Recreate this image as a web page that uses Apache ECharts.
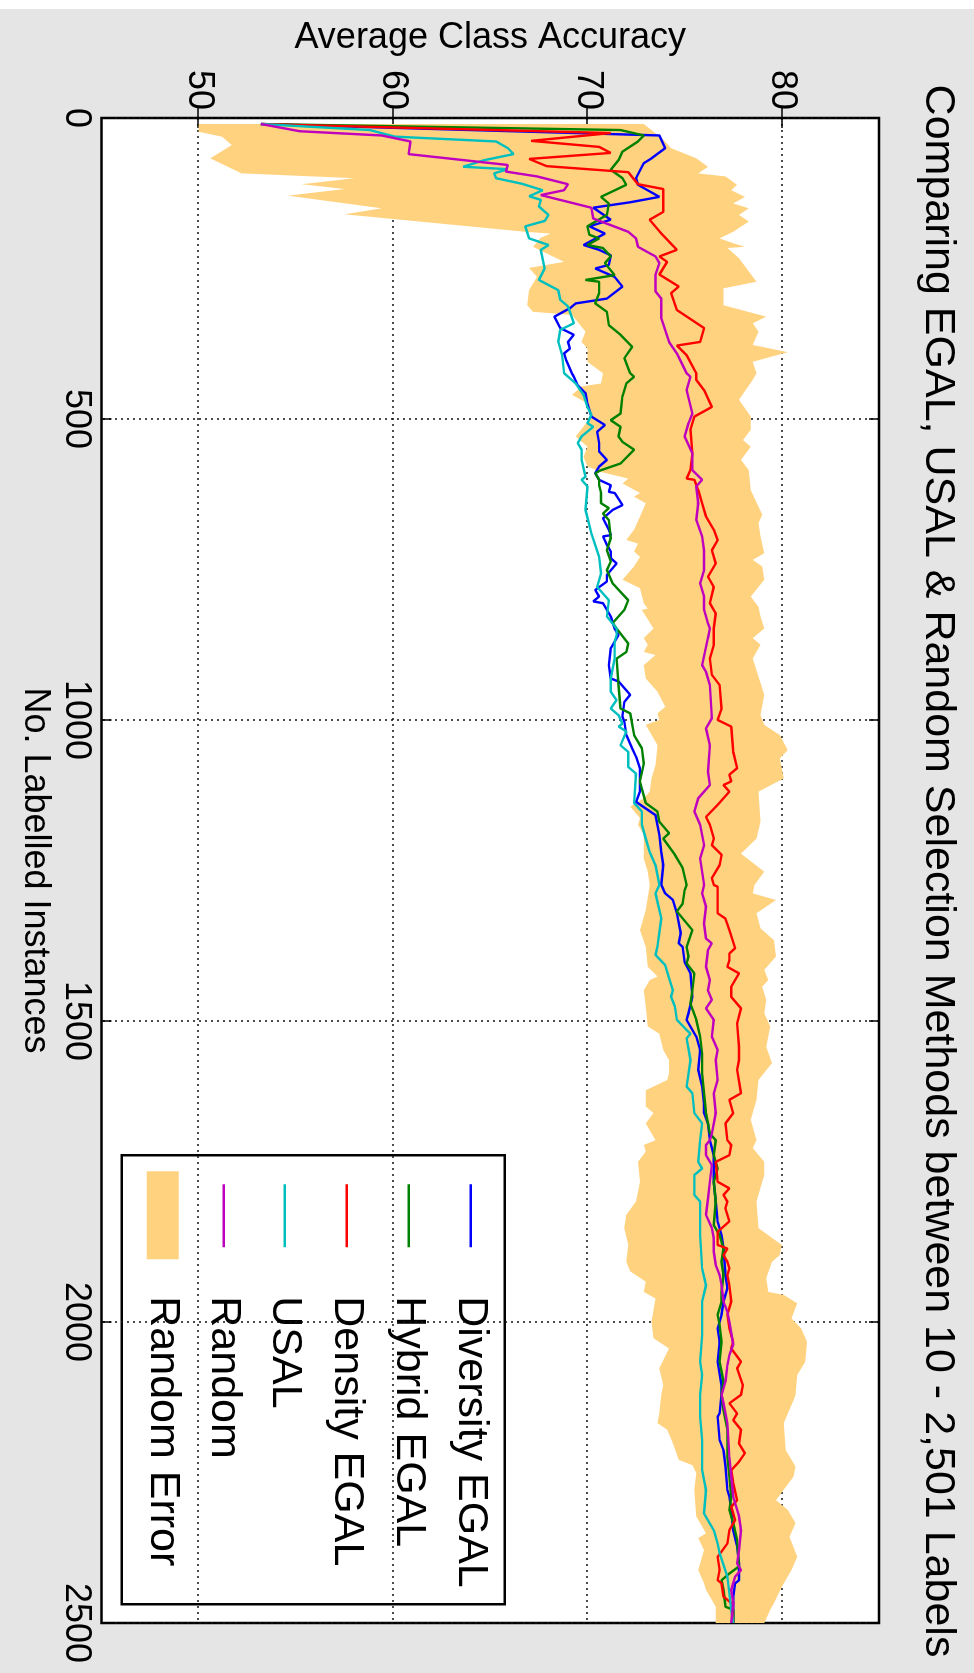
<!DOCTYPE html>
<html>
<head>
<meta charset="utf-8">
<title>Comparing EGAL, USAL &amp; Random Selection Methods</title>
<script src="https://cdn.jsdelivr.net/npm/echarts@6/dist/echarts.min.js"></script>
<style>
  html, body { margin: 0; padding: 0; background: #fff; }
  body { width: 974px; height: 1673px; overflow: hidden; position: relative; }
  /* The figure is laid out landscape and turned a quarter turn clockwise. */
  #chart {
    position: absolute; left: 0; top: 0;
    width: 1673px; height: 974px;
    transform-origin: 0 0;
    transform: translate(974px, 0) rotate(90deg);
  }
  #edge { position: absolute; left: 0; top: 0; width: 974px; height: 9px; background: #fff; }
</style>
</head>
<body>
<div id="chart"></div>
<div id="edge"></div>
<script>
// ---- Data: [labelled instances, average class accuracy %] ----
const diversityEgal = [
  [10,53.2],[29,73.7],[50,74.0],[67,73.3],[75,72.9],[100,72.5],[111,72.6],[131,73.7],[140,72.2],[149,70.3],
  [169,71.2],[180,70.1],[192,70.9],[211,69.8],[219,70.6],[228,71.2],[244,71.1],[250,70.4],[264,71.4],[280,71.8],
  [300,71.0],[308,69.4],[316,69.1],[330,68.3],[349,68.6],[360,69.3],[372,69.0],[383,69.1],[391,68.8],[402,68.9],
  [424,69.2],[430,69.3],[444,69.5],[457,69.9],[474,70.0],[496,70.2],[504,70.6],[510,70.9],[521,70.5],[540,70.6],
  [554,70.6],[568,71.0],[579,70.6],[590,70.4],[601,70.6],[610,71.2],[621,71.1],[623,71.4],[643,71.8],[651,71.3],
  [665,70.8],[684,71.1],[693,71.2],[695,70.8],[709,71.0],[720,71.2],[731,71.2],[740,71.5],[759,71.0],[770,71.0],
  [784,70.4],[795,70.6],[803,70.3],[806,70.8],[828,71.2],[848,71.4],[859,71.6],[881,71.2],[909,71.1],[931,71.2],
  [936,71.6],[958,72.2],[970,71.9],[994,71.8],[1003,71.9],[1025,72.0],[1047,72.3],[1061,72.5],[1080,72.7],[1119,72.7],
  [1136,72.5],[1147,73.0],[1158,73.5],[1191,73.7],[1219,73.8],[1241,73.9],[1274,73.8],[1288,74.0],[1299,74.4],[1321,74.6],
  [1354,74.8],[1371,74.7],[1377,74.9],[1402,75.0],[1421,75.3],[1460,75.4],[1487,75.2],[1498,75.1],[1526,75.6],[1548,75.8],
  [1581,75.7],[1609,75.9],[1637,76.0],[1653,76.0],[1670,76.2],[1698,76.3],[1700,76.4],[1723,76.5],[1767,76.5],[1800,76.6],
  [1833,76.7],[1856,76.9],[1878,77.0],[1922,77.1],[1944,77.2],[1966,77.0],[1988,76.9],[2011,76.7],[2033,76.8],[2066,76.7],
  [2105,76.9],[2121,76.9],[2152,76.8],[2157,76.7],[2196,76.8],[2213,77.0],[2240,77.1],[2279,77.2],[2290,77.3],[2312,77.4],
  [2346,77.5],[2373,77.7],[2401,77.8],[2429,77.8],[2434,77.6],[2456,77.5],[2478,77.5],[2500,77.5]
];

const hybridEgal = [
  [10,53.2],[20,71.7],[29,72.9],[39,72.6],[56,71.8],[70,71.6],[86,71.2],[100,71.8],[111,72.0],[131,70.7],
  [142,71.1],[161,71.0],[180,70.0],[194,70.1],[200,70.6],[211,70.0],[216,70.8],[230,71.2],[241,70.9],[261,71.4],
  [269,69.9],[272,70.6],[291,70.6],[308,70.4],[322,71.0],[344,71.1],[360,71.7],[380,72.3],[399,71.9],[424,72.2],
  [430,72.4],[441,72.0],[463,71.8],[491,71.7],[502,71.2],[513,71.7],[529,71.6],[538,71.8],[551,72.4],[574,71.7],
  [585,70.7],[590,70.4],[601,70.6],[610,70.6],[623,70.7],[640,70.7],[648,71.1],[657,70.8],[668,71.1],[698,71.2],
  [718,71.0],[737,71.2],[751,71.0],[773,71.3],[787,71.7],[801,72.1],[817,71.9],[839,71.3],[848,71.5],[873,72.1],
  [887,72.0],[898,71.5],[942,71.6],[981,71.7],[989,72.2],[1025,72.4],[1047,72.8],[1072,72.9],[1102,72.7],[1138,73.0],
  [1152,73.6],[1169,73.7],[1188,74.2],[1197,73.9],[1224,74.5],[1246,74.9],[1274,75.1],[1283,75.0],[1305,74.9],[1318,74.6],
  [1349,75.4],[1377,75.1],[1393,75.2],[1404,75.1],[1421,75.5],[1449,75.4],[1471,75.3],[1498,75.6],[1526,75.8],[1554,75.9],
  [1587,75.9],[1620,76.0],[1653,76.1],[1687,76.3],[1698,76.6],[1700,76.7],[1723,76.5],[1745,76.7],[1767,76.5],[1800,76.6],
  [1839,76.5],[1856,76.8],[1878,77.0],[1900,76.9],[1922,77.0],[1950,76.9],[1966,76.9],[1988,76.7],[2005,76.8],[2033,76.9],
  [2066,76.8],[2099,77.0],[2121,76.9],[2146,77.0],[2179,77.2],[2224,77.2],[2257,77.3],[2290,77.4],[2312,77.3],[2334,77.5],
  [2362,77.7],[2406,77.8],[2418,77.3],[2429,76.9],[2445,77.0],[2473,77.1],[2478,77.5],[2500,77.5]
];

const densityEgal = [
  [10,53.2],[25,71.2],[38,67.1],[48,70.6],[58,71.2],[68,67.0],[80,67.9],[90,72.1],[110,72.6],[118,73.9],
  [156,73.9],[169,73.2],[192,73.8],[219,74.6],[230,73.7],[239,74.1],[260,73.7],[280,74.7],[291,74.3],[319,74.6],
  [349,76.0],[372,75.8],[378,74.6],[394,75.1],[424,75.6],[435,75.6],[452,76.0],[480,76.4],[496,75.5],[518,75.3],
  [557,75.4],[585,75.3],[599,75.1],[601,75.5],[618,75.7],[640,75.9],[662,76.1],[684,76.5],[701,76.7],[718,76.4],
  [740,76.6],[762,76.2],[779,76.5],[806,76.3],[823,76.6],[848,76.5],[875,76.5],[898,76.3],[925,76.4],[942,76.8],
  [981,76.9],[1000,76.7],[1011,77.4],[1053,77.5],[1080,77.7],[1091,77.3],[1102,77.4],[1108,77.0],[1119,77.3],[1141,76.7],
  [1161,76.1],[1174,76.3],[1197,76.5],[1208,76.4],[1224,76.9],[1241,76.8],[1263,76.4],[1274,76.5],[1277,76.7],[1321,76.7],
  [1330,77.1],[1349,77.3],[1379,77.6],[1388,77.3],[1399,77.3],[1410,77.2],[1421,77.8],[1443,77.4],[1460,77.4],[1479,77.9],
  [1504,77.7],[1543,77.8],[1565,77.8],[1581,77.7],[1620,77.9],[1631,77.3],[1653,77.5],[1670,77.1],[1698,77.2],[1706,77.4],
  [1723,77.3],[1734,76.6],[1767,76.7],[1778,77.3],[1789,77.0],[1800,77.2],[1811,77.1],[1833,77.3],[1850,76.7],[1872,76.7],
  [1878,77.2],[1889,77.0],[1900,77.2],[1911,77.3],[1922,77.2],[1939,77.3],[1966,77.4],[1988,77.2],[2011,77.3],[2033,77.5],
  [2044,77.4],[2066,77.9],[2077,77.7],[2105,78.0],[2121,77.9],[2135,77.3],[2152,77.7],[2163,77.5],[2179,77.9],[2202,77.8],
  [2218,78.1],[2232,77.8],[2246,77.4],[2268,77.5],[2296,77.7],[2307,77.4],[2329,77.6],[2346,77.3],[2368,77.2],[2390,76.7],
  [2412,76.8],[2429,76.7],[2434,76.9],[2456,77.0],[2467,77.4],[2500,77.5]
];

const usal = [
  [10,53.2],[20,58.8],[31,60.1],[39,65.3],[50,65.9],[60,66.2],[70,64.7],[81,63.6],[85,65.9],[92,65.2],
  [100,65.3],[109,66.6],[120,67.7],[130,67.0],[136,67.6],[147,67.5],[161,68.0],[171,67.8],[180,66.8],[200,67.0],
  [211,68.0],[219,67.6],[250,67.8],[269,67.5],[286,68.5],[302,68.6],[313,69.0],[341,69.3],[352,68.6],[372,68.5],
  [394,68.7],[424,68.8],[427,68.9],[441,69.4],[460,69.8],[480,70.0],[493,70.2],[507,70.0],[513,70.3],[529,69.7],
  [540,69.5],[551,69.7],[568,69.7],[596,69.9],[601,69.7],[612,70.0],[651,69.9],[690,70.2],[729,70.6],[756,70.7],
  [779,70.5],[801,71.1],[828,71.0],[848,71.5],[859,71.5],[870,71.4],[898,71.4],[931,71.2],[953,71.2],[967,71.5],
  [981,71.2],[992,71.6],[1006,71.8],[1011,71.6],[1019,72.0],[1042,71.7],[1053,72.1],[1078,72.1],[1089,72.5],[1138,72.4],
  [1152,72.8],[1174,72.8],[1197,73.0],[1219,73.2],[1241,73.5],[1274,73.7],[1288,73.5],[1330,73.8],[1377,73.6],[1390,73.5],
  [1407,74.0],[1429,74.2],[1449,74.4],[1460,74.3],[1476,74.5],[1498,74.6],[1515,75.1],[1521,75.3],[1529,75.1],[1565,75.3],
  [1609,75.1],[1620,75.4],[1653,75.5],[1670,75.9],[1698,75.8],[1734,75.7],[1745,75.9],[1756,75.5],[1789,75.5],[1800,75.8],
  [1856,75.8],[1911,75.9],[1939,76.1],[1966,75.9],[2022,75.9],[2066,75.8],[2088,75.9],[2121,75.8],[2157,75.8],[2196,75.9],
  [2246,75.9],[2279,76.1],[2318,76.0],[2346,76.5],[2368,76.7],[2384,76.8],[2423,77.2],[2451,77.3],[2478,77.4],[2500,77.5]
];

const randomSel = [
  [10,53.2],[22,55.2],[29,59.4],[39,60.9],[60,60.8],[78,65.9],[89,65.8],[97,67.4],[110,69.0],[120,68.8],
  [128,67.6],[149,70.2],[167,70.3],[189,72.1],[200,72.5],[214,72.6],[230,73.5],[241,73.7],[261,73.5],[288,73.5],
  [300,73.8],[333,73.8],[372,74.2],[391,74.6],[424,75.1],[430,75.3],[452,75.1],[491,75.4],[507,75.2],[529,75.0],
  [557,75.4],[585,75.4],[601,75.9],[612,75.6],[640,75.7],[668,75.6],[695,75.9],[718,76.0],[740,76.0],[751,76.0],
  [773,75.8],[795,76.0],[817,76.0],[839,76.2],[848,76.3],[864,76.2],[909,75.9],[920,76.1],[942,76.3],[997,76.4],
  [1014,76.1],[1042,76.3],[1086,76.2],[1108,76.3],[1130,75.7],[1152,75.5],[1174,75.8],[1208,76.0],[1230,75.8],[1274,76.0],
  [1288,75.9],[1310,76.1],[1338,76.0],[1363,76.1],[1371,76.4],[1382,76.2],[1410,76.1],[1432,76.3],[1449,76.2],[1465,76.4],
  [1479,76.1],[1498,76.5],[1526,76.4],[1548,76.7],[1565,76.6],[1598,76.7],[1620,76.5],[1653,76.6],[1687,76.4],[1698,76.3],
  [1706,76.1],[1723,76.1],[1739,76.4],[1767,76.3],[1795,76.2],[1822,76.1],[1844,76.4],[1861,76.5],[1883,76.5],[1905,76.6],
  [1922,76.8],[1939,76.9],[1966,77.0],[1983,77.2],[1999,77.3],[2038,77.5],[2055,77.3],[2072,77.2],[2099,77.1],[2121,76.9],
  [2135,77.0],[2168,77.2],[2224,77.3],[2257,77.4],[2290,77.5],[2323,77.8],[2346,77.9],[2379,77.8],[2401,77.7],[2412,77.9],
  [2423,77.6],[2445,77.4],[2467,77.5],[2500,77.4]
];

// Random selection error band: lower and upper edges
const randomErrorLow = [
  [10,50.0],[23,50.0],[31,51.2],[45,51.7],[67,50.6],[92,52.2],[100,58.0],[110,55.3],[118,57.5],[129,54.6],
  [150,59.4],[160,57.5],[189,66.8],[192,68.1],[199,67.6],[214,67.2],[239,68.8],[249,67.0],[264,67.4],[286,67.0],
  [311,66.9],[322,67.2],[327,69.2],[355,69.9],[372,69.7],[383,70.0],[405,70.0],[424,70.8],[441,70.7],[446,69.7],
  [460,69.2],[474,70.0],[496,70.2],[529,69.4],[546,70.0],[563,69.8],[579,70.0],[588,70.7],[599,72.1],[607,71.8],
  [623,72.7],[629,72.4],[640,73.0],[662,72.7],[684,72.4],[701,72.0],[707,72.6],[720,72.4],[729,72.7],[745,72.4],
  [767,71.8],[781,72.7],[806,72.9],[815,73.1],[817,72.8],[848,73.4],[864,72.9],[875,73.1],[887,72.9],[892,73.5],
  [909,72.9],[931,73.0],[953,73.6],[978,74.0],[989,73.6],[1000,73.7],[1008,73.0],[1042,73.6],[1075,73.5],[1097,73.3],
  [1119,73.2],[1130,72.9],[1144,72.2],[1163,72.7],[1174,72.6],[1191,72.9],[1230,72.9],[1252,73.1],[1274,73.2],[1316,73.0],
  [1349,72.7],[1377,73.0],[1410,73.1],[1426,73.6],[1432,73.2],[1449,72.9],[1476,73.0],[1509,73.1],[1521,73.7],[1548,73.9],
  [1565,74.2],[1587,74.2],[1598,74.1],[1615,73.0],[1642,73.0],[1653,73.4],[1670,73.0],[1698,73.5],[1706,72.9],[1717,73.0],
  [1734,72.6],[1767,72.7],[1800,72.5],[1822,72.0],[1844,71.9],[1872,72.1],[1900,72.0],[1916,72.2],[1933,73.0],[1950,72.9],
  [1961,73.5],[1999,73.3],[2027,73.4],[2044,74.2],[2077,73.7],[2105,73.9],[2121,73.8],[2152,73.7],[2168,73.6],[2179,74.1],
  [2202,74.4],[2229,74.7],[2238,75.4],[2251,75.6],[2279,75.5],[2323,75.6],[2351,76.1],[2359,75.7],[2379,76.0],[2412,75.7],
  [2434,76.0],[2445,76.1],[2473,76.6],[2500,76.6]
];

const randomErrorHigh = [
  [10,72.9],[20,73.3],[39,74.0],[50,74.3],[67,75.6],[81,76.2],[92,75.7],[97,77.1],[111,77.7],[120,77.4],
  [131,78.1],[142,77.5],[150,78.3],[161,77.8],[172,78.3],[189,77.5],[200,76.8],[208,77.5],[214,78.1],[216,77.2],
  [233,77.8],[272,78.7],[283,77.0],[311,77.0],[330,79.2],[341,78.5],[355,78.8],[377,78.5],[389,80.3],[405,78.5],
  [424,78.7],[435,78.5],[468,77.8],[496,78.4],[518,78.4],[535,78.0],[546,78.4],[568,77.9],[585,78.3],[618,78.4],
  [659,79.0],[673,78.8],[695,78.9],[723,79.1],[734,78.5],[745,79.0],[767,79.1],[795,78.4],[812,78.8],[828,78.9],
  [848,79.1],[864,78.5],[875,78.9],[898,78.5],[958,79.1],[992,78.9],[1008,79.1],[1025,79.9],[1050,80.3],[1064,79.9],
  [1097,80.1],[1119,78.8],[1169,78.9],[1197,78.7],[1222,77.9],[1252,79.1],[1274,78.6],[1288,78.5],[1299,79.7],[1321,78.7],
  [1346,78.9],[1366,79.6],[1393,79.7],[1415,79.1],[1432,79.3],[1443,79.0],[1465,79.2],[1487,79.1],[1509,79.4],[1543,79.2],
  [1570,79.5],[1598,78.8],[1631,78.7],[1664,78.4],[1698,78.7],[1711,78.5],[1734,79.1],[1756,79.1],[1767,79.0],[1800,78.7],
  [1844,78.8],[1872,80.0],[1889,79.9],[1900,79.5],[1927,79.2],[1950,79.3],[1955,80.1],[1969,80.8],[1994,80.5],[2011,81.0],
  [2033,81.3],[2066,81.2],[2088,80.8],[2121,80.7],[2130,80.6],[2168,80.1],[2213,80.2],[2240,80.7],[2257,80.6],[2274,80.2],
  [2296,79.7],[2312,80.3],[2334,80.7],[2357,80.4],[2390,80.8],[2412,80.5],[2440,80.0],[2467,79.6],[2478,79.4],[2500,79.1]
];

// ---- Axis ticks and labels ----
const instanceTicks = [0, 500, 1000, 1500, 2000, 2500];
const accuracyTicks = [50, 60, 70, 80];

const seriesNames = ['Diversity EGAL', 'Hybrid EGAL', 'Density EGAL', 'USAL', 'Random', 'Random Error'];
const seriesColors = ['#0000ff', '#008000', '#ff0000', '#00bfbf', '#bf00bf', '#ffd27f'];
const seriesData = [diversityEgal, hybridEgal, densityEgal, usal, randomSel];

const FONT = "'Liberation Sans', Arial, Helvetica, sans-serif";
const dotted = { type: [2, 4], color: '#111', width: 1.5 };
const tickStyle = { color: '#000', width: 1.5 };
const plainNumber = function (v) { return String(v); };

const chart = echarts.init(document.getElementById('chart'), null, { renderer: 'canvas' });

// Band between the lower and upper error edges, mapped through the axes.
const errorBand = {
  type: 'custom',
  name: 'Random Error',
  data: [[1250, 65]],
  clip: true,
  silent: true,
  z: 1,
  renderItem: function (params, api) {
    const pts = [];
    for (let i = 0; i < randomErrorHigh.length; i++) pts.push(api.coord(randomErrorHigh[i]));
    for (let i = randomErrorLow.length - 1; i >= 0; i--) pts.push(api.coord(randomErrorLow[i]));
    return { type: 'polygon', shape: { points: pts }, style: { fill: seriesColors[5], stroke: null } };
  }
};

const lines = seriesData.map(function (d, i) {
  return {
    type: 'line',
    name: seriesNames[i],
    data: d,
    showSymbol: false,
    symbol: 'none',
    clip: true,
    silent: true,
    z: 2 + i,
    lineStyle: { width: 2.4, color: seriesColors[i] },
    itemStyle: { color: seriesColors[i] }
  };
});

// Legend box drawn as graphics (lines, colour patch and names)
const legendLeft = 1154, legendTop = 468, legendW = 449, legendH = 383;
const legendRowY = [34, 96, 158, 220, 281, 342];
const legendChildren = [{
  type: 'rect',
  shape: { x: 0, y: 0, width: legendW, height: legendH },
  style: { fill: '#fff', stroke: '#000', lineWidth: 2.5 }
}];
seriesNames.forEach(function (name, i) {
  const y = legendRowY[i];
  if (i < 5) {
    legendChildren.push({
      type: 'line',
      shape: { x1: 29, y1: y, x2: 92, y2: y },
      style: { stroke: seriesColors[i], lineWidth: 2.4 }
    });
  } else {
    legendChildren.push({
      type: 'rect',
      shape: { x: 16, y: y - 16, width: 88, height: 32 },
      style: { fill: seriesColors[i] }
    });
  }
  legendChildren.push({
    type: 'text',
    x: 141, y: y,
    style: {
      text: name, fill: '#000', font: '43px ' + FONT,
      textAlign: 'left', textVerticalAlign: 'middle'
    }
  });
});

chart.setOption({
  animation: false,
  backgroundColor: '#e5e5e5',
  title: {
    text: 'Comparing EGAL, USAL & Random Selection Methods between 10 - 2,501 Labels',
    left: 871, top: 15, textAlign: 'center', padding: 0,
    textStyle: { fontSize: 43, fontWeight: 'normal', color: '#000', fontFamily: FONT }
  },
  grid: {
    left: 118, right: 50, top: 95, bottom: 101.5,
    show: true, backgroundColor: '#fff', borderColor: '#000', borderWidth: 2.5,
    containLabel: false, outerBoundsMode: 'none'
  },
  xAxis: [{
    type: 'value', min: instanceTicks[0], max: instanceTicks[instanceTicks.length - 1], interval: 500,
    position: 'bottom',
    name: 'No. Labelled Instances', nameLocation: 'middle', nameGap: 46,
    nameTextStyle: { fontSize: 36, color: '#000', fontFamily: FONT },
    axisLine: { show: false },
    axisTick: { show: true, inside: true, length: 10, lineStyle: tickStyle },
    axisLabel: { show: true, fontSize: 36, color: '#000', fontFamily: FONT, margin: 8, formatter: plainNumber },
    splitLine: { show: true, lineStyle: dotted }
  }, {
    type: 'value', min: instanceTicks[0], max: instanceTicks[instanceTicks.length - 1], interval: 500,
    position: 'top',
    axisLine: { show: false },
    axisTick: { show: true, inside: true, length: 10, lineStyle: tickStyle },
    axisLabel: { show: false },
    splitLine: { show: false }
  }],
  yAxis: [{
    type: 'value', min: 45, max: 85,
    position: 'left',
    name: 'Average Class Accuracy', nameLocation: 'middle', nameGap: 62, nameRotate: 90,
    nameTextStyle: { fontSize: 36, color: '#000', fontFamily: FONT },
    axisLine: { show: false },
    axisTick: { show: true, inside: true, length: 10, lineStyle: tickStyle, customValues: accuracyTicks },
    axisLabel: { show: true, fontSize: 36, color: '#000', fontFamily: FONT, margin: 8, customValues: accuracyTicks, formatter: plainNumber },
    splitLine: { show: true, lineStyle: dotted }
  }, {
    type: 'value', min: 45, max: 85,
    position: 'right',
    axisLine: { show: false },
    axisTick: { show: true, inside: true, length: 10, lineStyle: tickStyle, customValues: accuracyTicks },
    axisLabel: { show: false, customValues: accuracyTicks },
    splitLine: { show: false }
  }],
  graphic: [{
    type: 'group', left: legendLeft, top: legendTop, z: 100,
    children: legendChildren
  }],
  series: [errorBand].concat(lines)
});
</script>
</body>
</html>
